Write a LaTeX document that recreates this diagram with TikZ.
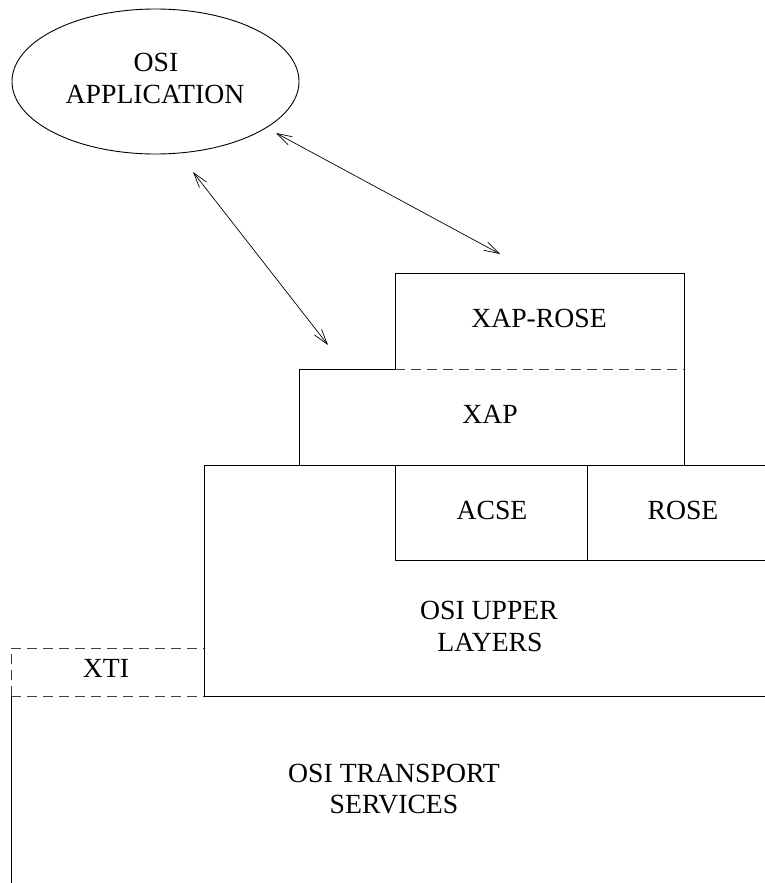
\documentclass[tikz,border=0pt]{standalone}
\usepackage{fontspec}
\setmainfont{Liberation Serif}
\usetikzlibrary{arrows.meta,shapes.geometric}
\begin{document}
\begin{tikzpicture}[x=1pt,y=-1pt,
  ln/.style={line width=0.9pt},
  dln/.style={line width=0.9pt, dash pattern=on 10pt off 6pt, draw=black!75},
  lbl/.style={font=\fontsize{27.7}{32}\selectfont, anchor=base, inner sep=0pt},
  biarrow/.style={line width=0.7pt, {Straight Barb[length=15pt,width=9pt]}-{Straight Barb[length=15pt,width=9pt]}}]
\useasboundingbox (0,0) rectangle (765,883);
% application ellipse
\node[draw, ln, ellipse, minimum width=287pt, minimum height=145pt, inner sep=0pt] (app) at (155.5,81.5) {};
\node[lbl] (appA) at (156,71) {OSI};
\node[lbl] (appB) at (155,103) {APPLICATION};
% arrow end points
\coordinate (a1s) at (276,133);
\coordinate (a1e) at (500,254);
\coordinate (a2s) at (193,172);
\coordinate (a2e) at (328,345);
\draw[biarrow] (a1s) -- (a1e);
\draw[biarrow] (a2s) -- (a2e);
% XAP-ROSE
\draw[ln] (395,369) -- (395,273) -- (684,273) -- (684,369);
\draw[dln] (395,369) -- (684,369);
\node[lbl] (xaprose) at (539,327) {XAP-ROSE};
% XAP
\draw[ln] (299,465) -- (299,369) -- (395,369);
\draw[ln] (684,369) -- (684,465);
\node[lbl] (xap) at (490,423) {XAP};
% upper layers
\draw[ln] (204,696) -- (204,465) -- (765,465);
\draw[ln] (395,465) -- (395,560) -- (765,560);
\draw[ln] (587,465) -- (587,560);
\node[lbl] (acse) at (492,519) {ACSE};
\node[lbl] (rose) at (683,519) {ROSE};
\node[lbl] (upA) at (489,619) {OSI UPPER};
\node[lbl] (upB) at (490,651) {LAYERS};
\draw[ln] (204,696) -- (765,696);
% XTI
\draw[dln] (11,696) -- (11,648) -- (204,648);
\draw[dln] (11,696) -- (204,696);
\node[lbl] (xti) at (106,677) {XTI};
% transport
\draw[ln] (11,696) -- (11,883);
\node[lbl] (trA) at (394,782) {OSI TRANSPORT};
\node[lbl] (trB) at (394,813) {SERVICES};
\end{tikzpicture}
\end{document}
